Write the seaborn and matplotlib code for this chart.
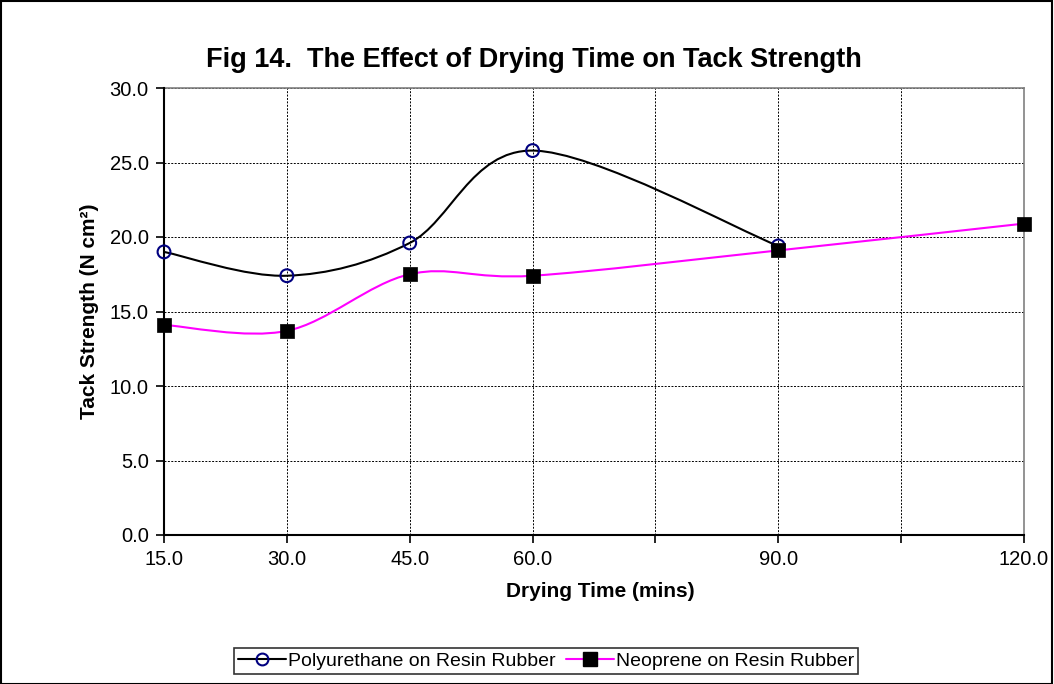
import numpy as np
import pandas as pd
import matplotlib
matplotlib.use("Agg")
import matplotlib.pyplot as plt
import seaborn as sns
from matplotlib.path import Path
from matplotlib.patches import PathPatch, Rectangle
from matplotlib.lines import Line2D

# ---- data ----
poly_time = [15, 30, 45, 60, 90]
poly_strength = [19.0, 17.4, 19.6, 25.8, 19.4]
neo_time = [15, 30, 45, 60, 90, 120]
neo_strength = [14.1, 13.7, 17.5, 17.4, 19.1, 20.9]
x_ticks = [15, 30, 45, 60, 75, 90, 105, 120]
x_tick_labels = ["15.0", "30.0", "45.0", "60.0", "", "90.0", "", "120.0"]
y_ticks = [0, 5, 10, 15, 20, 25, 30]
y_tick_labels = ["0.0", "5.0", "10.0", "15.0", "20.0", "25.0", "30.0"]
series_names = ["Polyurethane on Resin Rubber", "Neoprene on Resin Rubber"]

sns.set_style("white")
plt.rcParams["font.family"] = ["Liberation Sans", "DejaVu Sans"]
plt.rcParams["text.color"] = "black"
plt.rcParams["axes.labelcolor"] = "black"
plt.rcParams["xtick.color"] = "black"
plt.rcParams["ytick.color"] = "black"

fig = plt.figure(figsize=(10.54, 6.84), dpi=100)
ax = fig.add_axes([164 / 1054, 1 - 535 / 684, (1024 - 164) / 1054, (535 - 88) / 684])


def smooth_path(xs, ys):
    """Excel-style smoothed line: cubic Bezier segments through the data points."""
    pts = np.column_stack([xs, ys]).astype(float)
    n = len(pts)
    verts = [pts[0]]
    codes = [Path.MOVETO]
    for i in range(n - 1):
        p0 = pts[max(i - 1, 0)]
        p1 = pts[i]
        p2 = pts[i + 1]
        p3 = pts[min(i + 2, n - 1)]
        c1 = p1 + (p2 - p0) / 6.0
        c2 = p2 - (p3 - p1) / 6.0
        verts += [c1, c2, p2]
        codes += [Path.CURVE4] * 3
    return Path(verts, codes)


ax.add_patch(PathPatch(smooth_path(poly_time, poly_strength), facecolor="none",
                       edgecolor="black", lw=1.5, zorder=3))
ax.add_patch(PathPatch(smooth_path(neo_time, neo_strength), facecolor="none",
                       edgecolor="#FF00FF", lw=1.5, zorder=3))

df_poly = pd.DataFrame({"t": poly_time, "s": poly_strength})
df_neo = pd.DataFrame({"t": neo_time, "s": neo_strength})
sns.scatterplot(data=df_poly, x="t", y="s", ax=ax, marker="o", s=85,
                facecolor="none", edgecolor="#000080", linewidth=1.5, zorder=8,
                clip_on=False)
sns.scatterplot(data=df_neo, x="t", y="s", ax=ax, marker="s", s=110,
                color="black", edgecolor="black", linewidth=0.5, zorder=9,
                clip_on=False)

ax.set_xlim(15, 120)
ax.set_ylim(0, 30)
ax.set_xticks(x_ticks)
ax.set_xticklabels(x_tick_labels, fontsize=14.5)
ax.set_yticks(y_ticks)
ax.set_yticklabels(y_tick_labels, fontsize=14.5)
ax.tick_params(axis="both", direction="out", length=6, width=1.2, color="black",
               labelcolor="black", bottom=True, left=True)
ax.tick_params(axis="x", pad=5)
ax.tick_params(axis="y", pad=5)
ax.grid(True, color="black", linestyle=(0, (2, 1.5)), linewidth=0.7)
ax.set_axisbelow(True)
for s in ["left", "bottom"]:
    ax.spines[s].set_color("black")
    ax.spines[s].set_linewidth(1.5)
    ax.spines[s].set_zorder(7)
for s in ["top", "right"]:
    ax.spines[s].set_visible(True)
    ax.spines[s].set_color("#808080")
    ax.spines[s].set_linewidth(1.2)

ax.set_xlabel("Drying Time (mins)", fontsize=15, fontweight="bold", color="black")
ax.set_ylabel("Tack Strength (N cm²)", fontsize=15, fontweight="bold", color="black")
ax.xaxis.set_label_coords(0.507, -0.105)
ax.yaxis.set_label_coords(-0.0756, 0.5)

fig.text(534 / 1054, 1 - 60 / 684, "Fig 14.  The Effect of Drying Time on Tack Strength",
         ha="center", va="center", fontsize=19.5, fontweight="bold", color="black")

handles = [
    Line2D([], [], color="black", lw=1.5, marker="o", markersize=8.5,
           markerfacecolor="none", markeredgecolor="#000080", markeredgewidth=1.5),
    Line2D([], [], color="#FF00FF", lw=1.5, marker="s", markersize=9.5,
           markerfacecolor="black", markeredgecolor="black"),
]
leg = fig.legend(handles, series_names, loc="center", bbox_to_anchor=(546 / 1054, 1 - 661 / 684),
                 ncol=2, frameon=True, fancybox=False, fontsize=14, handlelength=2.5,
                 handletextpad=0.1, columnspacing=0.5, borderpad=0.2, borderaxespad=0,
                 labelcolor="black")
leg.get_frame().set_edgecolor("black")
leg.get_frame().set_linewidth(1.2)

fig.patches.append(Rectangle((0.0005, 0.0007), 0.998, 0.998, transform=fig.transFigure,
                             fill=False, edgecolor="black", linewidth=1.5))

fig.savefig("out.png", dpi=100, facecolor="white")
